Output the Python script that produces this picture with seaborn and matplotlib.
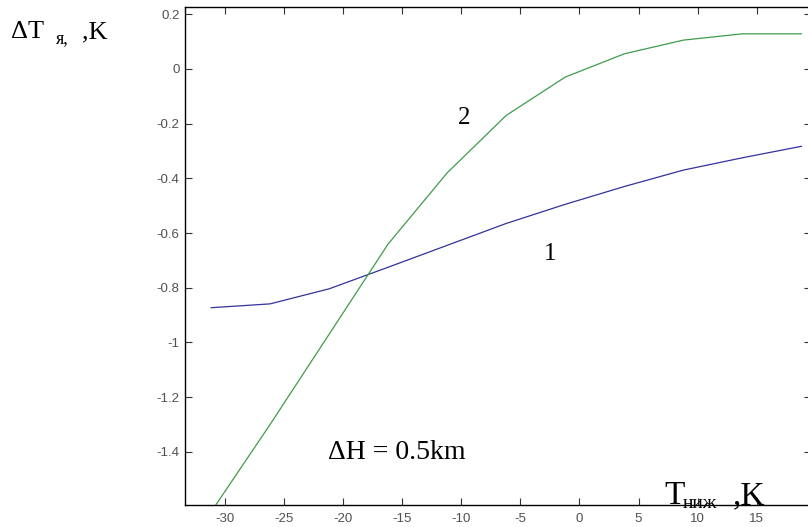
import numpy as np
import pandas as pd
import seaborn as sns
import matplotlib
matplotlib.use("Agg")
import matplotlib.pyplot as plt

# values
t_low = [-31.2, -26.2, -21.2, -16.2, -11.2, -6.2, -1.2, 3.8, 8.8, 13.8, 18.8]
dT_1 = [-0.873, -0.859, -0.804, -0.725, -0.645, -0.565, -0.495, -0.43, -0.37, -0.325, -0.283]
dT_2 = [-1.62, -1.30, -0.97, -0.64, -0.38, -0.17, -0.03, 0.055, 0.105, 0.128, 0.128]
xticks = [-30, -25, -20, -15, -10, -5, 0, 5, 10, 15]
yticks = [0.2, 0, -0.2, -0.4, -0.6, -0.8, -1, -1.2, -1.4]

df = pd.DataFrame({
    "T": t_low * 2,
    "dT": dT_1 + dT_2,
    "curve": ["1"] * len(t_low) + ["2"] * len(t_low),
})

sns.set_style("ticks")
plt.rcParams["axes.unicode_minus"] = False
plt.rcParams["text.color"] = "black"
W, H = 808, 527
fig = plt.figure(figsize=(W / 100, H / 100), dpi=100)
ax = fig.add_axes([185 / W, (H - 505) / H, (811 - 185) / W, (505 - 7) / H])

sns.lineplot(data=df, x="T", y="dT", hue="curve", palette=["#33339a", "#3f9c4c"],
             linewidth=0.9, legend=False, ax=ax, sort=False)

ax.set_xlim(-33.4, 19.6)
ax.set_ylim(-1.594, 0.226)
ax.set_xticks(xticks)
ax.set_yticks(yticks)
ax.set_xticklabels([f"{v:g}" for v in xticks], family="Liberation Sans")
ax.set_yticklabels([f"{v:g}" for v in yticks], family="Liberation Sans")
ax.set_xlabel("")
ax.set_ylabel("")
ax.tick_params(direction="in", length=5, width=0.8, top=True, right=True,
               labelsize=9.5, labelcolor="#505050", color="#333333")
ax.tick_params(axis="x", pad=6)
ax.tick_params(axis="y", pad=4)
for s in ax.spines.values():
    s.set_color("black")
    s.set_linewidth(1.0)

serif = "Liberation Serif"
def ptext(x, y, s, size):
    fig.text(x / W, 1 - y / H, s, fontsize=size, family=serif, color="black",
             va="baseline", ha="left")

# y label
ptext(11, 38, "ΔT", 19)
ptext(56, 43, "я,", 13)
ptext(82, 38, ",K", 19)
# x label
ptext(664, 504, "T", 24)
ptext(683, 508, "ниж", 14)
ptext(733, 504, ",K", 24)
# annotations
ax.text(-10.3, -0.2, "2", fontsize=18, family=serif, color="black")
ax.text(-3.0, -0.7, "1", fontsize=18, family=serif, color="black")
ax.text(-21.3, -1.425, "ΔH = 0.5km", fontsize=20, family=serif, color="black")

fig.savefig("out.png", dpi=100)
